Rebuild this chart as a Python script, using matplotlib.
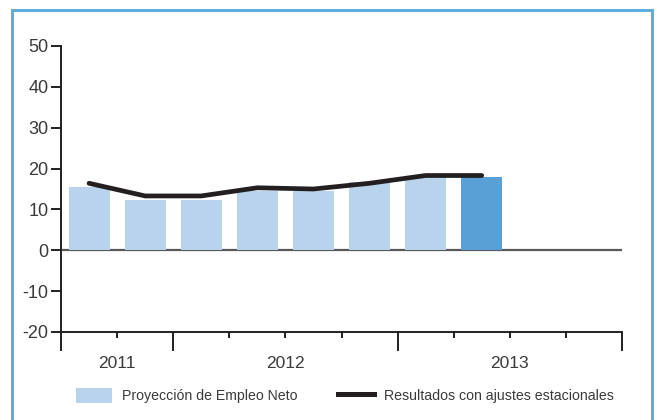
import matplotlib
matplotlib.use("Agg")
import matplotlib.pyplot as plt
from matplotlib.patches import Rectangle, Patch
from matplotlib.lines import Line2D
import numpy as np

# quarterly data, Q3 2011 .. Q2 2013
neto = [15.6, 12.2, 12.2, 14.5, 14.5, 16.8, 18.3, 18.0]
ajustado = [16.4, 13.3, 13.3, 15.3, 15.0, 16.4, 18.3, 18.3]
years = ["2011", "2012", "2013"]
year_pos = [1, 4, 8]
year_bounds = [0, 2, 6, 10]

light = "#B8D3EB"
dark = "#58A0D6"
ink = "#231F20"
txt = "#3A3A3A"

plt.rcParams['font.family'] = ['Liberation Sans', 'DejaVu Sans']

fig = plt.figure(figsize=(6.57, 4.2), dpi=100)
ax = fig.add_axes([61 / 657, 1 - 332 / 420, (622 - 61) / 657, (332 - 46) / 420])

x = np.arange(len(neto)) + 0.5
colors = [light] * (len(neto) - 1) + [dark]
ax.bar(x, neto, width=0.73, color=colors, zorder=2)
ax.plot(x, ajustado, color=ink, lw=3.4, solid_capstyle='round', solid_joinstyle='round', zorder=3)
ax.axhline(0, color="#58595B", lw=1.6, zorder=1)

ax.set_xlim(0, 10)
ax.set_ylim(-20, 50)
ax.set_yticks(range(-20, 51, 10))
ax.set_yticklabels([str(v) for v in range(-20, 51, 10)], fontsize=13, color=txt)
ax.set_xticks(year_bounds)
ax.set_xticklabels([])
ax.set_xticks([t for t in range(11) if t not in year_bounds], minor=True)
ax.tick_params(axis='x', which='major', length=13.5, width=1.4, color=ink, direction='out')
ax.tick_params(axis='x', which='minor', length=4.5, width=1.4, color=ink, direction='out')
ax.tick_params(axis='y', length=7, width=1.4, color=ink, pad=2)

for s in ['top', 'right']:
    ax.spines[s].set_visible(False)
for s in ['left', 'bottom']:
    ax.spines[s].set_color(ink)
    ax.spines[s].set_linewidth(1.4)

for yr, p in zip(years, year_pos):
    ax.text(p, -27.6, yr, ha='center', va='center', fontsize=12.5, color=txt)

handles = [Patch(facecolor=light, edgecolor='none'),
           Line2D([0], [0], color=ink, lw=3.6)]
fig.legend(handles, ["Proyección de Empleo Neto", "Resultados con ajustes estacionales"],
           loc='center', bbox_to_anchor=(0.525, 0.058), ncol=2, frameon=False,
           handlelength=2.6, handleheight=1.2, handletextpad=0.7,
           columnspacing=2.8, labelcolor=txt,
           prop={'family': ['Liberation Sans', 'DejaVu Sans'], 'size': 10.2})

fig.patches.append(Rectangle((12 / 657, -0.1), 640 / 657, 1.1 - 10 / 420,
                             transform=fig.transFigure, fill=False,
                             edgecolor="#5BAEE0", lw=2.2))

fig.savefig("out.png", dpi=100)
